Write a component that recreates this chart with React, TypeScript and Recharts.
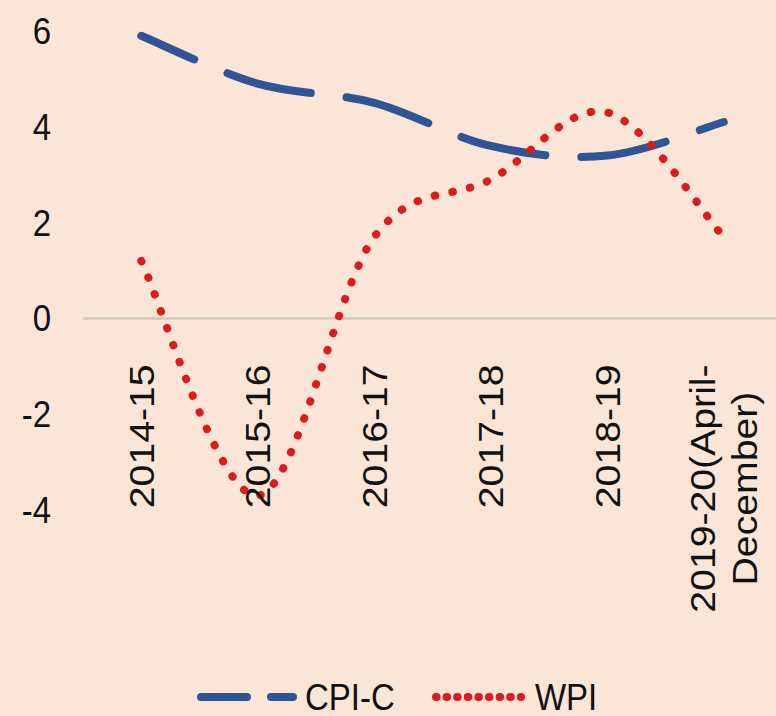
import React from 'react';
import { LineChart, Line, XAxis, YAxis, ReferenceLine } from 'recharts';

const categories = ['2014-15', '2015-16', '2016-17', '2017-18', '2018-19', '2019-20(April-December)'];
const cpiC = [5.9, 4.9, 4.5, 3.6, 3.4, 4.1];
const wpi = [1.2, -3.7, 1.7, 2.9, 4.3, 1.7];
const yTicks = [-4, -2, 0, 2, 4, 6];

const data = categories.map((name, i) => ({ name, cpiC: cpiC[i], wpi: wpi[i] }));

const BG = '#FBE5D6';
const BLUE = '#2F5597';
const RED = '#DC1C1C';
const FONT = '"Liberation Sans", Arial, sans-serif';

const CHART_W = 782;
const CHART_H = 716;
const TOP = 31;
const XAXIS_H = 206;
const PLOT_H = CHART_H - TOP - XAXIS_H;
const Y_MIN = -4;
const Y_MAX = 6;

// excel style smoothing (catmull-rom as bezier)
const smoothCurve = (context: any) => {
  let pts: number[][] = [];
  return {
    areaStart() {},
    areaEnd() {},
    lineStart() {
      pts = [];
    },
    point(x: number, y: number) {
      pts.push([+x, +y]);
    },
    lineEnd() {
      if (!pts.length) return;
      context.moveTo(pts[0][0], pts[0][1]);
      const t = 1 / 6;
      for (let i = 0; i < pts.length - 1; i++) {
        const p0 = pts[i - 1] || pts[i];
        const p1 = pts[i];
        const p2 = pts[i + 1];
        const p3 = pts[i + 2] || p2;
        context.bezierCurveTo(
          p1[0] + (p2[0] - p0[0]) * t,
          p1[1] + (p2[1] - p0[1]) * t,
          p2[0] - (p3[0] - p1[0]) * t,
          p2[1] - (p3[1] - p1[1]) * t,
          p2[0],
          p2[1]
        );
      }
    },
  };
};

let ctx: CanvasRenderingContext2D | null = null;
const measure = (s: string, size: number) => {
  if (!ctx) ctx = document.createElement('canvas').getContext('2d');
  if (!ctx) return s.length * size * 0.55;
  ctx.font = `${size}px "Liberation Sans"`;
  return ctx.measureText(s).width;
};

const wrapLabel = (s: string): string[] => {
  if (s.length <= 12) return [s];
  const cut = s.lastIndexOf('-', 14);
  if (cut < 0) return [s];
  return [s.slice(0, cut + 1), s.slice(cut + 1)];
};

const XTick = (props: any) => {
  const { x, y, payload } = props;
  const size = 35;
  const zeroY = y - (PLOT_H * (0 - Y_MIN)) / (Y_MAX - Y_MIN);
  const top = zeroY + 46;
  const lines = wrapLabel(String(payload.value));
  const widths = lines.map((l) => measure(l, size));
  const maxW = Math.max(...widths);
  const lh = size * 1.2;
  return (
    <g transform={`translate(${x},${top}) rotate(-90) scale(1.12,1)`}>
      {lines.map((ln, i) => (
        <text
          key={i}
          x={-(maxW - widths[i]) / 2}
          y={(i - (lines.length - 1) / 2) * lh}
          dy="0.35em"
          textAnchor="end"
          fontSize={size}
          fontFamily={FONT}
          fill="#111"
        >
          {ln}
        </text>
      ))}
    </g>
  );
};

const YTick = (props: any) => {
  const { x, y, payload } = props;
  return (
    <text
      x={x}
      y={y}
      dy="0.35em"
      textAnchor="end"
      fontSize={33}
      fontFamily={FONT}
      fill="#111"
      transform={`translate(0 ${y}) scale(1 1.12) translate(0 ${-y})`}
    >
      {payload.value}
    </text>
  );
};

const series = [
  { key: 'cpiC', name: 'CPI-C', color: BLUE, width: 8, dash: '86 36', offset: 28 },
  { key: 'wpi', name: 'WPI', color: RED, width: 8, dash: '0.5 17.5', offset: 0 },
];

const legendItems = [
  { s: series[0], x1: 201, x2: 293, dash: '46 24', tx: 305 },
  { s: series[1], x1: 436, x2: 521, dash: '0.5 10.1', tx: 535 },
];

const App: React.FC = () => {
  return (
    <div
      style={{
        position: 'absolute',
        left: 0,
        top: 0,
        width: 776,
        height: 716,
        overflow: 'hidden',
        background: BG,
      }}
    >
      <LineChart width={CHART_W} height={CHART_H} data={data} margin={{ top: TOP, right: 0, left: 0, bottom: 0 }}>
        <XAxis
          dataKey="name"
          scale="band"
          height={XAXIS_H}
          axisLine={false}
          tickLine={false}
          tickSize={0}
          tickMargin={0}
          interval={0}
          tick={<XTick />}
        />
        <YAxis
          width={83}
          domain={[Y_MIN, Y_MAX]}
          ticks={yTicks}
          axisLine={false}
          tickLine={false}
          tickSize={0}
          tickMargin={32}
          tick={<YTick />}
        />
        <ReferenceLine y={0} stroke="#D3C8BD" strokeWidth={2.5} />
        {series.map((s) => (
          <Line
            key={s.key}
            dataKey={s.key}
            name={s.name}
            type={smoothCurve as any}
            stroke={s.color}
            strokeWidth={s.width}
            strokeDasharray={s.dash}
            strokeDashoffset={s.offset}
            strokeLinecap="round"
            dot={false}
            activeDot={false}
            isAnimationActive={false}
          />
        ))}
      </LineChart>
      <svg width={776} height={60} style={{ position: 'absolute', left: 0, top: 667 }}>
        {legendItems.map((it) => (
          <g key={it.s.key}>
            <line
              x1={it.x1}
              x2={it.x2}
              y1={30}
              y2={30}
              stroke={it.s.color}
              strokeWidth={it.s.width}
              strokeDasharray={it.dash}
              strokeLinecap="round"
            />
            <text
              x={it.tx}
              y={30}
              dy="0.35em"
              fontSize={33}
              fontFamily={FONT}
              fill="#111"
              transform="translate(0 30) scale(1 1.12) translate(0 -30)"
            >
              {it.s.name}
            </text>
          </g>
        ))}
      </svg>
    </div>
  );
};

export default App;
